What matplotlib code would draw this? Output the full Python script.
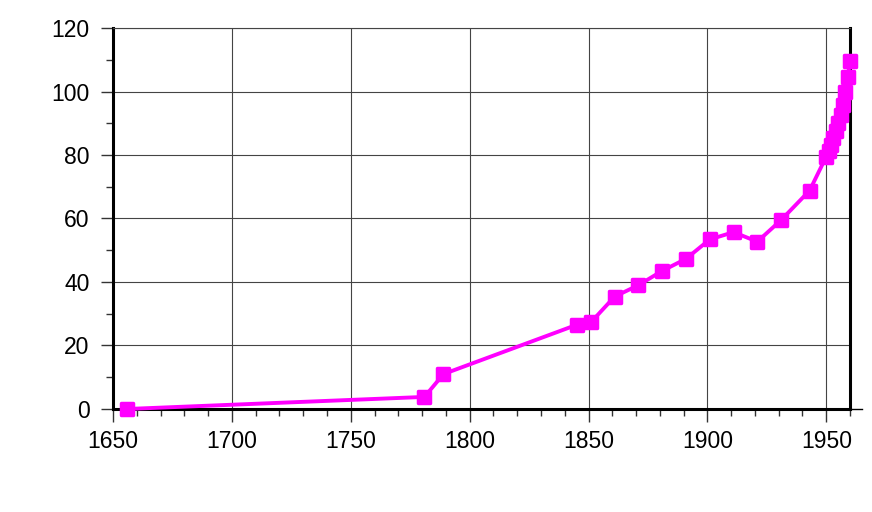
import matplotlib
matplotlib.use("Agg")
import matplotlib.pyplot as plt
from matplotlib.ticker import MultipleLocator
from matplotlib.markers import MarkerStyle

years = [1656, 1781, 1789, 1845, 1851, 1861, 1871, 1881, 1891, 1901, 1911, 1921,
         1931, 1943, 1950, 1951, 1952, 1953, 1954, 1955, 1956, 1957, 1958, 1959, 1960]
values = [0, 3.8, 11, 26.5, 27.3, 35.4, 39, 43.5, 47.3, 53.4, 55.7, 52.7,
          59.5, 68.8, 79.5, 81.3, 83.2, 85.3, 87.5, 90, 92.6, 95.7, 100, 104.6, 109.5]

x_ticks = [1650, 1700, 1750, 1800, 1850, 1900, 1950]
y_ticks = [0, 20, 40, 60, 80, 100, 120]

plt.rcParams['font.family'] = ['Liberation Sans', 'DejaVu Sans']

fig = plt.figure(figsize=(8.72, 5.12), dpi=100)
ax = fig.add_axes([0.1296, 0.2012, 0.8452, 0.7441])

ax.plot(years, values, color='#ff00ff', linewidth=2.8,
        marker=MarkerStyle('s', joinstyle='round'),
        markersize=8, markeredgewidth=2.5, markeredgecolor='#ff00ff',
        solid_joinstyle='round', zorder=3, clip_on=False)

ax.set_xlim(1650, 1960)
ax.set_ylim(0, 120)
ax.set_xticks(x_ticks)
ax.set_yticks(y_ticks)
ax.xaxis.set_minor_locator(MultipleLocator(10))
ax.yaxis.set_minor_locator(MultipleLocator(10))

ax.grid(True, which='major', color='#444444', linewidth=0.8)
ax.tick_params(axis='both', which='major', labelsize=16.5, length=9, width=1,
               color='#333333', direction='out')
ax.tick_params(axis='y', which='major', pad=8)
ax.tick_params(axis='x', which='major', pad=6)
ax.tick_params(axis='both', which='minor', length=5, width=1, color='#333333')

for side in ['left', 'bottom', 'right']:
    ax.spines[side].set_linewidth(2.2)
    ax.spines[side].set_color('black')
ax.spines['top'].set_linewidth(0.8)
ax.spines['top'].set_color('#444444')

# bottom axis line runs a little past the frame
ax.plot([1960, 1965], [0, 0], color='black', linewidth=1, clip_on=False)

fig.savefig('out.png', dpi=100)
